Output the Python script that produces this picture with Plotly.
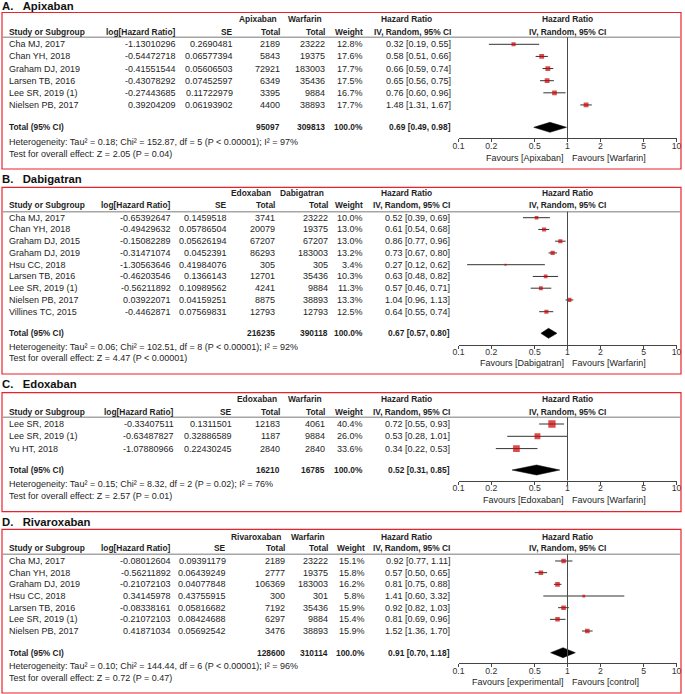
import math
import plotly.graph_objects as go

W, H = 685, 694
FONT = "Liberation Sans, Arial, sans-serif"
TXT = "#1e1e1e"

# ---------------- DATA ----------------
# Panel A: Apixaban
a_study = ["Cha MJ, 2017", "Chan YH, 2018", "Graham DJ, 2019", "Larsen TB, 2016", "Lee SR, 2019 (1)", "Nielsen PB, 2017"]
a_loghr = [-1.13010296, -0.54472718, -0.41551544, -0.43078292, -0.27443685, 0.39204209]
a_se = [0.2690481, 0.06577394, 0.05606503, 0.07452597, 0.11722979, 0.06193902]
a_n_exp = [2189, 5843, 72921, 6349, 3395, 4400]
a_n_ctl = [23222, 19375, 183003, 35436, 9884, 38893]
a_weight = [12.8, 17.6, 17.7, 17.5, 16.7, 17.7]
a_hr = [0.32, 0.58, 0.66, 0.65, 0.76, 1.48]
a_lo = [0.19, 0.51, 0.59, 0.56, 0.60, 1.31]
a_hi = [0.55, 0.66, 0.74, 0.75, 0.96, 1.67]
a_total = [95097, 309813]
a_pooled = [0.69, 0.49, 0.98]
a_het = "Heterogeneity: Tau² = 0.18; Chi² = 152.87, df = 5 (P &lt; 0.00001); I² = 97%"
a_test = "Test for overall effect: Z = 2.05 (P = 0.04)"
a_groups = ["Apixaban", "Warfarin"]
a_favours = ["Favours [Apixaban]", "Favours [Warfarin]"]

# Panel B: Dabigatran
b_study = ["Cha MJ, 2017", "Chan YH, 2018", "Graham DJ, 2015", "Graham DJ, 2019", "Hsu CC, 2018",
           "Larsen TB, 2016", "Lee SR, 2019 (1)", "Nielsen PB, 2017", "Villines TC, 2015"]
b_loghr = [-0.65392647, -0.49429632, -0.15082289, -0.31471074, -1.30563646, -0.46203546, -0.56211892, 0.03922071, -0.4462871]
b_se = [0.1459518, 0.05786504, 0.05626194, 0.0452391, 0.41984076, 0.1366143, 0.10989562, 0.04159251, 0.07569831]
b_n_exp = [3741, 20079, 67207, 86293, 305, 12701, 4241, 8875, 12793]
b_n_ctl = [23222, 19375, 67207, 183003, 305, 35436, 9884, 38893, 12793]
b_weight = [10.0, 13.0, 13.0, 13.2, 3.4, 10.3, 11.3, 13.3, 12.5]
b_hr = [0.52, 0.61, 0.86, 0.73, 0.27, 0.63, 0.57, 1.04, 0.64]
b_lo = [0.39, 0.54, 0.77, 0.67, 0.12, 0.48, 0.46, 0.96, 0.55]
b_hi = [0.69, 0.68, 0.96, 0.80, 0.62, 0.82, 0.71, 1.13, 0.74]
b_total = [216235, 390118]
b_pooled = [0.67, 0.57, 0.80]
b_het = "Heterogeneity: Tau² = 0.06; Chi² = 102.51, df = 8 (P &lt; 0.00001); I² = 92%"
b_test = "Test for overall effect: Z = 4.47 (P &lt; 0.00001)"
b_groups = ["Edoxaban", "Dabigatran"]
b_favours = ["Favours [Dabigatran]", "Favours [Warfarin]"]

# Panel C: Edoxaban
c_study = ["Lee SR, 2018", "Lee SR, 2019 (1)", "Yu HT, 2018"]
c_loghr = [-0.33407511, -0.63487827, -1.07880966]
c_se = [0.1311501, 0.32886589, 0.22430245]
c_n_exp = [12183, 1187, 2840]
c_n_ctl = [4061, 9884, 2840]
c_weight = [40.4, 26.0, 33.6]
c_hr = [0.72, 0.53, 0.34]
c_lo = [0.55, 0.28, 0.22]
c_hi = [0.93, 1.01, 0.53]
c_total = [16210, 16785]
c_pooled = [0.52, 0.31, 0.85]
c_het = "Heterogeneity: Tau² = 0.15; Chi² = 8.32, df = 2 (P = 0.02); I² = 76%"
c_test = "Test for overall effect: Z = 2.57 (P = 0.01)"
c_groups = ["Edoxaban", "Warfarin"]
c_favours = ["Favours [Edoxaban]", "Favours [Warfarin]"]

# Panel D: Rivaroxaban
d_study = ["Cha MJ, 2017", "Chan YH, 2018", "Graham DJ, 2019", "Hsu CC, 2018", "Larsen TB, 2016",
           "Lee SR, 2019 (1)", "Nielsen PB, 2017"]
d_loghr = [-0.08012604, -0.56211892, -0.21072103, 0.34145978, -0.08338161, -0.21072103, 0.41871034]
d_se = [0.09391179, 0.06439249, 0.04077848, 0.43755915, 0.05816682, 0.08424688, 0.05692542]
d_n_exp = [2189, 2777, 106369, 300, 7192, 6297, 3476]
d_n_ctl = [23222, 19375, 183003, 301, 35436, 9884, 38893]
d_weight = [15.1, 15.8, 16.2, 5.8, 15.9, 15.4, 15.9]
d_hr = [0.92, 0.57, 0.81, 1.41, 0.92, 0.81, 1.52]
d_lo = [0.77, 0.50, 0.75, 0.60, 0.82, 0.69, 1.36]
d_hi = [1.11, 0.65, 0.88, 3.32, 1.03, 0.96, 1.70]
d_total = [128600, 310114]
d_pooled = [0.91, 0.70, 1.18]
d_het = "Heterogeneity: Tau² = 0.10; Chi² = 144.44, df = 6 (P &lt; 0.00001); I² = 96%"
d_test = "Test for overall effect: Z = 0.72 (P = 0.47)"
d_groups = ["Rivaroxaban", "Warfarin"]
d_favours = ["Favours [experimental]", "Favours [control]"]

titles = ["A.\u00a0\u00a0\u00a0Apixaban", "B.\u00a0\u00a0\u00a0Dabigatran", "C.\u00a0\u00a0\u00a0Edoxaban", "D.\u00a0\u00a0\u00a0Rivaroxaban"]
tick_vals = [0.1, 0.2, 0.5, 1, 2, 5, 10]
tick_text = ["0.1", "0.2", "0.5", "1", "2", "5", "10"]

# ---------------- LAYOUT GEOMETRY (pixels) ----------------
geoms = [
    dict(title=6.5, top=12.5, bot=169, h1=19.3, h2=31.7, hline=37.3, row0=44.3, dy=12.13, total=127.3,
         het=141.7, test=154, axis=138.3, fav=157.5,
         cols=[176, 233.3, 280, 325, 362.7, 451], grp=[277, 321.7]),
    dict(title=179, top=187.3, bot=374, h1=193.3, h2=205, hline=211.7, row0=217.7, dy=11.75, total=333.3,
         het=347.3, test=358.3, axis=345, fav=363,
         cols=[171, 227, 275, 327.7, 363.3, 450], grp=[270.7, 324]),
    dict(title=384, top=392.7, bot=511.7, h1=399.3, h2=411.7, hline=417.3, row0=424, dy=12.3, total=470,
         het=484.3, test=496.3, axis=480.7, fav=500.3,
         cols=[174, 231.5, 280, 325, 362.7, 450], grp=[276.7, 321.7]),
    dict(title=521.7, top=529.3, bot=693, h1=536.7, h2=548.3, hline=554.3, row0=561, dy=11.67, total=652.7,
         het=666.3, test=677.7, axis=663.3, fav=682,
         cols=[171, 226, 285, 328.3, 365, 450], grp=[280.7, 325]),
]

panels = [
    dict(study=a_study, loghr=a_loghr, se=a_se, ne=a_n_exp, nc=a_n_ctl, w=a_weight, hr=a_hr, lo=a_lo, hi=a_hi,
         total=a_total, pooled=a_pooled, het=a_het, test=a_test, groups=a_groups, favours=a_favours),
    dict(study=b_study, loghr=b_loghr, se=b_se, ne=b_n_exp, nc=b_n_ctl, w=b_weight, hr=b_hr, lo=b_lo, hi=b_hi,
         total=b_total, pooled=b_pooled, het=b_het, test=b_test, groups=b_groups, favours=b_favours),
    dict(study=c_study, loghr=c_loghr, se=c_se, ne=c_n_exp, nc=c_n_ctl, w=c_weight, hr=c_hr, lo=c_lo, hi=c_hi,
         total=c_total, pooled=c_pooled, het=c_het, test=c_test, groups=c_groups, favours=c_favours),
    dict(study=d_study, loghr=d_loghr, se=d_se, ne=d_n_exp, nc=d_n_ctl, w=d_weight, hr=d_hr, lo=d_lo, hi=d_hi,
         total=d_total, pooled=d_pooled, het=d_het, test=d_test, groups=d_groups, favours=d_favours),
]

PLOT_L, PLOT_R = 458.5, 676.5  # pixel positions of 0.1 and 10
X1_PX = (PLOT_L + PLOT_R) / 2
REG = 9
BOLD = 8.4

fig = go.Figure()
annotations = []
shapes = []


def txt(x, y, s, anchor="right", bold=False, size=None, color=TXT):
    if size is None:
        size = BOLD if bold else REG
    annotations.append(dict(
        x=x / W, y=1 - y / H, xref="paper", yref="paper",
        text=f"<b>{s}</b>" if bold else s, showarrow=False,
        xanchor=anchor, yanchor="middle", borderpad=0, borderwidth=0,
        font=dict(family=FONT, size=size, color=color)))


layout_axes = {}
for i, (p, g) in enumerate(zip(panels, geoms)):
    k = i + 1
    xa = "x" if k == 1 else f"x{k}"
    ya = "y" if k == 1 else f"y{k}"
    n = len(p["study"])
    ys = [g["row0"] + j * g["dy"] for j in range(n)]

    # axes
    layout_axes["xaxis" if k == 1 else f"xaxis{k}"] = dict(
        domain=[PLOT_L / W, PLOT_R / W], type="log", range=[-1, 1], anchor=ya,
        showgrid=False, zeroline=False, showline=True, linecolor="#444", linewidth=1,
        ticks="outside", ticklen=3, tickcolor="#444", tickwidth=1, ticklabelstandoff=-4,
        tickvals=tick_vals, ticktext=tick_text,
        tickfont=dict(family=FONT, size=8.7, color="#333"), fixedrange=True)
    layout_axes["yaxis" if k == 1 else f"yaxis{k}"] = dict(
        domain=[1 - g["axis"] / H, 1 - g["top"] / H], range=[g["axis"], g["top"]],
        visible=False, anchor=xa, fixedrange=True)

    # red frame and header separator
    shapes.append(dict(type="rect", xref="paper", yref="paper", x0=2 / W, x1=681 / W,
                       y0=1 - g["bot"] / H, y1=1 - g["top"] / H,
                       line=dict(color="#e8232c", width=1.2)))
    shapes.append(dict(type="line", xref="paper", yref="paper", x0=3 / W, x1=680 / W,
                       y0=1 - g["hline"] / H, y1=1 - g["hline"] / H,
                       line=dict(color="#a6a6a6", width=1.5)))
    # line of no effect
    shapes.append(dict(type="line", xref=xa, yref=ya, x0=1, x1=1, y0=g["hline"], y1=g["axis"],
                       line=dict(color="#4a4a4a", width=1)))

    # CI lines
    lx, ly = [], []
    for lo, hi, y in zip(p["lo"], p["hi"], ys):
        lx += [lo, hi, None]
        ly += [y, y, None]
    fig.add_trace(go.Scatter(x=lx, y=ly, mode="lines", line=dict(color="#333", width=1),
                             xaxis=xa, yaxis=ya, hoverinfo="skip", showlegend=False))
    # squares
    fig.add_trace(go.Scatter(x=p["hr"], y=ys, mode="markers",
                             marker=dict(symbol="square", color="#cc0000",
                                         size=[1.15 * math.sqrt(w) for w in p["w"]], line=dict(width=0)),
                             xaxis=xa, yaxis=ya, showlegend=False))
    # diamond
    est, plo, phi = p["pooled"]
    yt = g["total"]
    fig.add_trace(go.Scatter(x=[plo, est, phi, est, plo], y=[yt, yt - 5, yt, yt + 5, yt],
                             mode="lines", fill="toself", fillcolor="black",
                             line=dict(color="black", width=0.5),
                             xaxis=xa, yaxis=ya, hoverinfo="skip", showlegend=False))

    # title
    txt(2, g["title"], titles[i], anchor="left", bold=True, size=11.3, color="#111")

    # headers
    c = g["cols"]
    txt(g["grp"][0], g["h1"], p["groups"][0], bold=True)
    txt(g["grp"][1], g["h1"], p["groups"][1], bold=True)
    txt(406.5, g["h1"], "Hazard Ratio", anchor="center", bold=True)
    txt(X1_PX, g["h1"], "Hazard Ratio", anchor="center", bold=True)
    txt(9.3, g["h2"], "Study or Subgroup", anchor="left", bold=True)
    txt(c[0], g["h2"], "log[Hazard Ratio]", bold=True)
    txt(c[1], g["h2"], "SE", bold=True)
    txt(c[2], g["h2"], "Total", bold=True)
    txt(c[3], g["h2"], "Total", bold=True)
    txt(c[4], g["h2"], "Weight", bold=True)
    txt(c[5], g["h2"], "IV, Random, 95% CI", bold=True)
    txt(X1_PX, g["h2"], "IV, Random, 95% CI", anchor="center", bold=True)

    # rows
    for j in range(n):
        y = ys[j]
        txt(9.3, y, p["study"][j], anchor="left")
        txt(c[0], y, f"{p['loghr'][j]}")
        txt(c[1], y, f"{p['se'][j]}")
        txt(c[2], y, f"{p['ne'][j]}")
        txt(c[3], y, f"{p['nc'][j]}")
        txt(c[4], y, f"{p['w'][j]:.1f}%")
        txt(c[5], y, f"{p['hr'][j]:.2f} [{p['lo'][j]:.2f}, {p['hi'][j]:.2f}]")

    # total
    txt(9.3, yt, "Total (95% CI)", anchor="left", bold=True)
    txt(c[2], yt, f"{p['total'][0]}", bold=True)
    txt(c[3], yt, f"{p['total'][1]}", bold=True)
    txt(c[4], yt, "100.0%", bold=True)
    txt(c[5], yt, f"{est:.2f} [{plo:.2f}, {phi:.2f}]", bold=True)
    txt(9.3, g["het"], p["het"], anchor="left")
    txt(9.3, g["test"], p["test"], anchor="left")

    # favours
    txt(X1_PX - 4, g["fav"], p["favours"][0], anchor="right")
    txt(X1_PX + 4, g["fav"], p["favours"][1], anchor="left")

fig.update_layout(
    width=W, height=H, margin=dict(l=0, r=0, t=0, b=0, autoexpand=False),
    paper_bgcolor="white", plot_bgcolor="rgba(0,0,0,0)",
    showlegend=False, annotations=annotations, shapes=shapes,
    font=dict(family=FONT, size=9, color=TXT),
    **layout_axes)

fig.write_html(
    "out.html", config={"displayModeBar": False},
    post_script="document.body.style.margin='0';document.body.style.padding='0';"
                "document.body.style.overflow='hidden';document.documentElement.style.overflow='hidden';")
